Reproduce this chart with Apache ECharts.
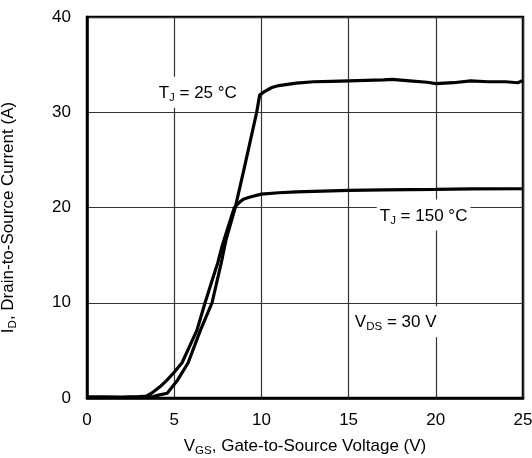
<!DOCTYPE html>
<html>
<head>
<meta charset="utf-8">
<script src="https://cdn.jsdelivr.net/npm/echarts@6/dist/echarts.min.js"></script>
<style>
html,body{margin:0;padding:0;background:#fff;}
#c{width:532px;height:458px;}
</style>
</head>
<body>
<div id="c"></div>
<script>
// ---- data ----
const xTicks = [0, 5, 10, 15, 20, 25];
const yTicks = [0, 10, 20, 30, 40];

const vgs25 = [0, 1, 2, 3, 3.8, 4.1, 4.6, 5.2, 5.8, 6.5, 7.17, 7.7, 7.97, 8.5, 9.0, 9.73, 9.9, 10.2, 10.6, 11, 12, 13, 14, 15, 16, 17, 17.5, 18.5, 19.5, 20, 21, 22, 23, 24, 24.7, 25];
const id25  = [0.1, 0.1, 0.05, 0.1, 0.15, 0.3, 0.5, 1.9, 3.7, 7.1, 10, 14.2, 16.6, 20, 24, 30, 31.8, 32.2, 32.6, 32.8, 33.05, 33.2, 33.25, 33.3, 33.35, 33.4, 33.45, 33.3, 33.15, 33.0, 33.1, 33.3, 33.2, 33.2, 33.1, 33.35];

const vgs150 = [0, 1, 2, 3, 3.4, 3.7, 4.2, 4.6, 5.0, 5.45, 5.9, 6.3, 6.77, 7.2, 7.5, 7.74, 8.1, 8.45, 8.77, 9.0, 9.35, 10, 11, 12, 13, 15, 17, 20, 22, 25];
const id150  = [0.1, 0.1, 0.1, 0.15, 0.2, 0.5, 1.2, 1.9, 2.7, 3.7, 5.5, 7.1, 10, 12.5, 14.2, 15.9, 18, 20, 20.6, 20.9, 21.1, 21.4, 21.55, 21.65, 21.7, 21.8, 21.85, 21.9, 21.95, 21.97];

// annotations: [text, x (V), y (A)]
const notes = [
  ['{n|T}{s|J}{n| = 25 °C}', 6.35, 32.1],
  ['{n|T}{s|J}{n| = 150 °C}', 19.3, 19.2],
  ['{n|V}{s|DS}{n| = 30 V}', 17.7, 8.0]
];

const FONT = '"Liberation Sans", Arial, Helvetica, sans-serif';
const FS = 17;
const rich = {
  n: {fontSize: FS, fontFamily: FONT, color: '#000'},
  s: {fontSize: 11.5, fontFamily: FONT, color: '#000', padding: [9, 0, 0, 0]}
};

const toPairs = (xs, ys) => xs.map((x, i) => [x, ys[i]]);

const chart = echarts.init(document.getElementById('c'), null, {renderer: 'canvas'});
chart.setOption({
  backgroundColor: '#fff',
  animation: false,
  grid: {left: 87, right: 9, top: 17, bottom: 60, containLabel: false, outerBoundsMode: 'none',
         show: true, borderColor: '#000', borderWidth: 2.5, backgroundColor: 'transparent'},
  xAxis: {
    type: 'value', min: xTicks[0], max: xTicks[xTicks.length - 1], interval: 5,
    name: '{n|V}{s|GS}{n|, Gate-to-Source Voltage (V)}',
    nameLocation: 'middle', nameGap: 38,
    nameTextStyle: {rich: rich},
    axisLine: {show: true, lineStyle: {color: '#000', width: 2.5}},
    axisTick: {show: false},
    axisLabel: {fontSize: FS, fontFamily: FONT, color: '#000', margin: 14},
    splitLine: {show: true, lineStyle: {color: '#333', width: 1.2}}
  },
  yAxis: {
    type: 'value', min: yTicks[0], max: yTicks[yTicks.length - 1], interval: 10,
    name: '{n|I}{s|D}{n|, Drain-to-Source Current (A)}',
    nameLocation: 'middle', nameGap: 68, nameRotate: 90,
    nameTextStyle: {rich: rich, padding: [0, 20, 0, 0]},
    axisLine: {show: true, lineStyle: {color: '#000', width: 2.5}},
    axisTick: {show: false},
    axisLabel: {fontSize: FS, fontFamily: FONT, color: '#000', margin: 16},
    splitLine: {show: true, lineStyle: {color: '#333', width: 1.2}}
  },
  series: [
    {
      type: 'line', name: 'TJ=25', data: toPairs(vgs25, id25), showSymbol: false, symbol: 'none',
      lineStyle: {color: '#000', width: 3.2}, z: 3,
      markPoint: {
        symbol: 'circle', symbolSize: 0,
        label: {show: true, position: 'inside', backgroundColor: '#fff', padding: [6, 3, 4, 3], rich: rich,
                 formatter: p => p.data.txt},
        data: notes.map(n => ({coord: [n[1], n[2]], txt: n[0]}))
      }
    },
    {
      type: 'line', name: 'TJ=150', data: toPairs(vgs150, id150), showSymbol: false, symbol: 'none',
      lineStyle: {color: '#000', width: 3.2}, z: 3
    }
  ]
});
</script>
</body>
</html>
